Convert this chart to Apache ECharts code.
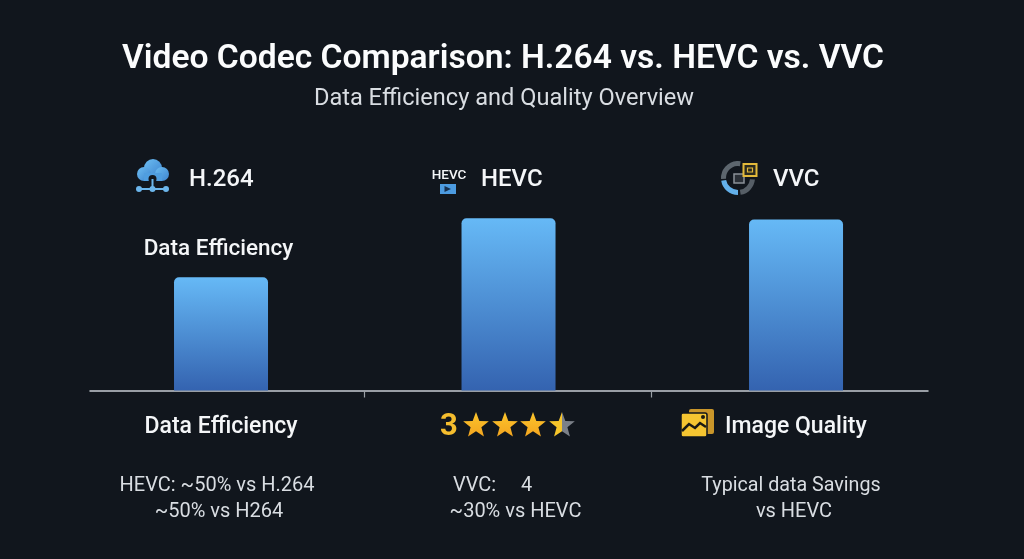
<!DOCTYPE html>
<html><head><meta charset="utf-8">
<style>html,body{margin:0;padding:0;background:#11161d}#c{width:1024px;height:559px}</style>
<script src="https://cdn.jsdelivr.net/npm/echarts@6/dist/echarts.min.js"></script>
</head><body><div id="c"></div>
<script>
const categories = ['H.264', 'HEVC', 'VVC'];
const efficiency = [50, 76, 75.5];
const chartTitle = 'Video Codec Comparison: H.264 vs. HEVC vs. VVC';
const chartSubtitle = 'Data Efficiency and Quality Overview';
const innerLabel = 'Data Efficiency';
const footHeads = ['Data Efficiency', 'Image Quality'];
const footLinesA = ['HEVC: ~50% vs H.264', '~50% vs H264'];
const footLinesB = ['VVC:', '4', '~30% vs HEVC'];
const footLinesC = ['Typical data Savings', 'vs HEVC'];
const ratingLabel = '3';
const FONT = 'Roboto, Inter, sans-serif';

function txt(x, y, s, size, weight, fill, align) {
  return {type:'text', x, y, silent:true, style:{text:s, fontFamily:FONT, fontSize:size, fontWeight:weight, fill:fill||'#f4f6f8', align:align||'center', verticalAlign:'middle'}};
}
function star(cx, cy, R, fill) {
  const pts = [];
  for (let i=0;i<10;i++){const r=i%2?R*0.42:R;const a=-Math.PI/2+i*Math.PI/5;pts.push([cx+r*Math.cos(a),cy+r*Math.sin(a)]);}
  return {type:'polygon', silent:true, shape:{points:pts}, style:{fill}};
}
const gold = {type:'linear',x:0,y:0,x2:0,y2:1,colorStops:[{offset:0,color:'#fcc52c'},{offset:1,color:'#f3a51f'}]};
const half = {type:'linear',x:0,y:0,x2:1,y2:0,colorStops:[{offset:0,color:'#f6c52a'},{offset:0.5,color:'#f6c52a'},{offset:0.5,color:'#7b8088'},{offset:1,color:'#7b8088'}]};
const blueGrad = {type:'linear',x:0,y:0,x2:1,y2:1,colorStops:[{offset:0,color:'#6cbdf2'},{offset:1,color:'#3d84cf'}]};

const graphic = [
  txt(189, 179.5, categories[0], 24, 500, '#f4f6f8', 'left'),
  txt(481, 179.5, categories[1], 24, 500, '#f4f6f8', 'left'),
  txt(773, 179.5, categories[2], 24, 500, '#f4f6f8', 'left'),
  txt(218.5, 249.5, innerLabel, 22.5, 500),
  txt(221, 427, footHeads[0], 23, 500),
  txt(725, 427, footHeads[1], 23, 500, '#f4f6f8', 'left'),
  txt(217, 486, footLinesA[0], 20, 400, '#d9dde2'),
  txt(219, 511.5, footLinesA[1], 20, 400, '#d9dde2'),
  txt(453, 486, footLinesB[0], 20, 400, '#d9dde2', 'left'),
  txt(521, 486, footLinesB[1], 20, 400, '#d9dde2', 'left'),
  txt(515.5, 511.5, footLinesB[2], 20, 400, '#d9dde2'),
  txt(791, 486, footLinesC[0], 19.7, 400, '#d9dde2'),
  txt(794, 511.5, footLinesC[1], 20, 400, '#d9dde2'),
  txt(449, 427, ratingLabel, 31, 700, '#f5bd2e'),
  star(476, 425.5, 13.5, gold), star(505, 425.5, 13.5, gold), star(533, 425.5, 13.5, gold), star(562, 425.5, 13.5, half),
  // H.264 cloud icon
  {type:'circle',silent:true,shape:{cx:153,cy:168,r:9},style:{fill:blueGrad}},
  {type:'circle',silent:true,shape:{cx:144,cy:174,r:7},style:{fill:blueGrad}},
  {type:'circle',silent:true,shape:{cx:162,cy:174,r:7},style:{fill:blueGrad}},
  {type:'rect',silent:true,shape:{x:144,y:173,width:18,height:8},style:{fill:'#4f9ee0'}},
  {type:'circle',silent:true,shape:{cx:152.5,cy:179,r:4},style:{fill:'#11161d'}},
  {type:'line',silent:true,shape:{x1:152.5,y1:179,x2:152.5,y2:189},style:{stroke:'#6cb6ec',lineWidth:2}},
  {type:'line',silent:true,shape:{x1:139,y1:189,x2:166,y2:189},style:{stroke:'#6cb6ec',lineWidth:2}},
  {type:'circle',silent:true,shape:{cx:139,cy:189,r:3},style:{fill:'#6cb6ec'}},
  {type:'circle',silent:true,shape:{cx:152.5,cy:189,r:3},style:{fill:'#6cb6ec'}},
  {type:'circle',silent:true,shape:{cx:166,cy:189,r:3},style:{fill:'#6cb6ec'}},
  // HEVC icon
  txt(449, 175.5, categories[1], 13.5, 500),
  {type:'rect',silent:true,shape:{x:440,y:184,width:16,height:10},style:{fill:'#4c9be0'}},
  {type:'polygon',silent:true,shape:{points:[[444.5,186],[444.5,192],[451,189]]},style:{fill:'#17304f'}},
  // VVC icon
  {type:'arc',silent:true,shape:{cx:738,cy:178,r:14.5,startAngle:Math.PI*0.98,endAngle:Math.PI*1.55},style:{stroke:'#5d666e',lineWidth:5,fill:null}},
  {type:'arc',silent:true,shape:{cx:738,cy:178,r:14.5,startAngle:Math.PI*0.5,endAngle:Math.PI*0.95},style:{stroke:'#63b0ea',lineWidth:5,fill:null}},
  {type:'arc',silent:true,shape:{cx:738,cy:178,r:14.5,startAngle:Math.PI*0.03,endAngle:Math.PI*0.45},style:{stroke:'#565e66',lineWidth:5,fill:null}},
  {type:'rect',silent:true,shape:{x:734,y:174,width:10,height:9},style:{stroke:'#8b9198',lineWidth:1.5,fill:'#2a2f36'}},
  {type:'rect',silent:true,shape:{x:743.5,y:164,width:13,height:12},style:{stroke:'#e3b93a',lineWidth:2,fill:'#2a2a20'}},
  {type:'rect',silent:true,shape:{x:747.5,y:168,width:5,height:4},style:{stroke:'#e3b93a',lineWidth:1.2,fill:null}},
  // Image icon
  {type:'rect',silent:true,shape:{x:689,y:409,width:25,height:25,r:2},style:{fill:'#c9962a'}},
  {type:'rect',silent:true,shape:{x:681,y:413,width:26,height:24,r:2},style:{fill:'#f5c531',stroke:'#11161d',lineWidth:1.5}},
  {type:'polyline',silent:true,shape:{points:[[682,431],[689,424],[695,428],[700,423],[706,427]]},style:{stroke:'#1a1a14',lineWidth:2.5,fill:null}},
  {type:'circle',silent:true,shape:{cx:703,cy:417,r:2},style:{fill:'#1a1a14'}}
];

const chart = echarts.init(document.getElementById('c'), null, {renderer:'canvas'});
chart.setOption({
  animation:false,
  backgroundColor:'#11161d',
  textStyle:{fontFamily:FONT},
  title:[
    {text:chartTitle,left:498,top:55,textAlign:'center',textVerticalAlign:'middle',textStyle:{color:'#fbfcfd',fontSize:33.6,fontWeight:600,fontFamily:FONT}},
    {text:chartSubtitle,left:499,top:94,textAlign:'center',textVerticalAlign:'middle',textStyle:{color:'#d9dde2',fontSize:23.6,fontWeight:400,fontFamily:FONT}}
  ],
  grid:{left:90,right:96,top:164,bottom:168.5},
  xAxis:{type:'value',min:-0.4557,max:2.459,
    splitLine:{show:false},axisLabel:{show:false},
    axisLine:{show:true,onZero:false,lineStyle:{color:'#c6ccd2',width:1.5}},
    axisTick:{show:true,customValues:[0.497,1.497],length:7,lineStyle:{color:'#9aa0a6',width:1.2}}},
  yAxis:{type:'value',min:0,max:100,show:false},
  series:[{type:'bar',barWidth:94,
    data:efficiency.map((v,i)=>[i,v]),
    itemStyle:{borderRadius:[5,5,0,0],color:{type:'linear',x:0,y:0,x2:0,y2:1,colorStops:[{offset:0,color:'#66b9f6'},{offset:1,color:'#3463b0'}]}}}],
  graphic:{elements:graphic}
});
</script></body></html>
